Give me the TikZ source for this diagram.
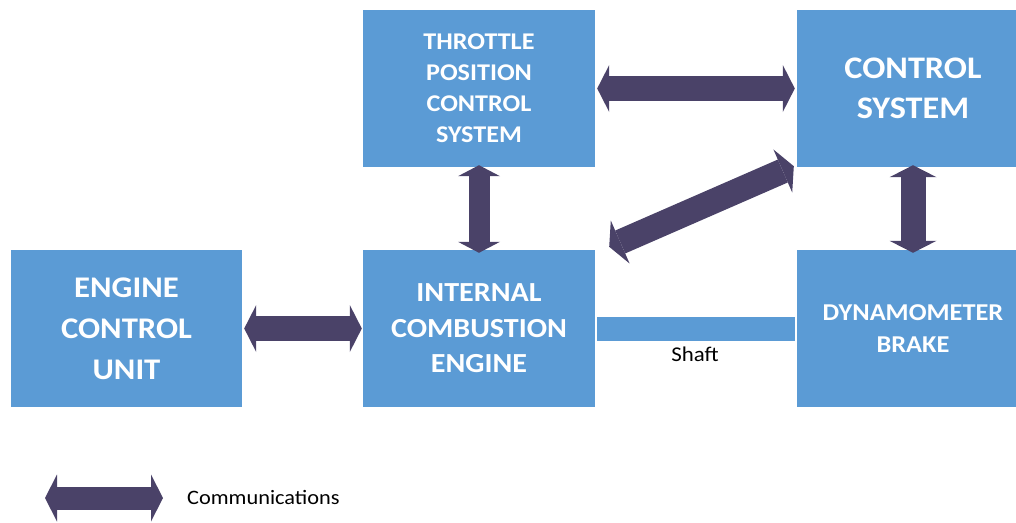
\documentclass[tikz,border=0pt]{standalone}
\usepackage{fontspec}
\setmainfont{Carlito}[FakeStretch=1.09]
\usetikzlibrary{arrows.meta,calc}
\definecolor{boxblue}{HTML}{5B9BD5}
\definecolor{linkpurple}{HTML}{4A4268}

\begin{document}
\begin{tikzpicture}[x=1pt,y=-1pt,
  block/.style={fill=boxblue, draw=none, minimum width=232pt, minimum height=157pt,
    text=white, align=center, inner sep=0pt},
  comm/.style={draw=linkpurple, line width=25pt,
    {Triangle[width=47pt,length=12pt,line width=0pt,fill=linkpurple]}-{Triangle[width=47pt,length=12pt,line width=0pt,fill=linkpurple]}},
  commv/.style={draw=linkpurple, line width=21pt,
    {Triangle[width=42pt,length=11pt,line width=0pt,fill=linkpurple]}-{Triangle[width=42pt,length=11pt,line width=0pt,fill=linkpurple]}},
  shaftline/.style={draw=boxblue, line width=24pt},
  plainlabel/.style={text=black, inner sep=0pt},
]
\useasboundingbox (0,0) rectangle (1016,522);
\clip (0,0) rectangle (1016,522);

% blocks
\node[block, font=\bfseries\fontsize{24}{31}\selectfont] (TP) at (479,88.5)
  {THROTTLE\\POSITION\\CONTROL\\SYSTEM};
\node[block, font=\bfseries\fontsize{31.4}{40}\selectfont] (CS) at (913,88.5)
  {CONTROL\\SYSTEM};
\node[block, minimum width=231pt, font=\bfseries\fontsize{30}{41}\selectfont] (ECU) at (126.5,328.5)
  {ENGINE\\CONTROL\\UNIT};
\node[block, font=\bfseries\fontsize{27.6}{35.5}\selectfont] (ICE) at (479,328.5)
  {INTERNAL\\COMBUSTION\\ENGINE};
\node[block, font=\bfseries\fontsize{24.2}{32}\selectfont] (DB) at (913,328.5)
  {DYNAMOMETER\\BRAKE};

% mechanical shaft between engine and brake
\draw[shaftline] ([xshift=2pt]ICE.east) -- ([xshift=-2pt]DB.west);
\node[plainlabel, font=\fontsize{21}{25}\selectfont] (shaftlbl) at (695,354) {Shaft};

% communication links
\draw[comm] ([xshift=2pt]TP.east) -- ([xshift=-2pt]CS.west);
\draw[comm] ([xshift=2pt]ECU.east) -- ([xshift=-1pt]ICE.west);
\draw[commv] ([yshift=2pt]TP.south) -- ([yshift=-3pt]ICE.north);
\draw[comm] ([yshift=2pt]CS.south) -- ([yshift=-3pt]DB.north);
\coordinate (d1) at ($(ICE.north east)+(14,-3)$);
\coordinate (d2) at ($(CS.south west)+(-3,-1)$);
\draw[comm] (d1) -- (d2);

% legend
\coordinate (leg1) at (45,498);
\coordinate (leg2) at (163,498);
\draw[comm, line width=23pt] (leg1) -- (leg2);
\node[plainlabel, anchor=west, font=\fontsize{20.5}{24}\selectfont] (legtext) at (187,497) {Communications};
\end{tikzpicture}
\end{document}
